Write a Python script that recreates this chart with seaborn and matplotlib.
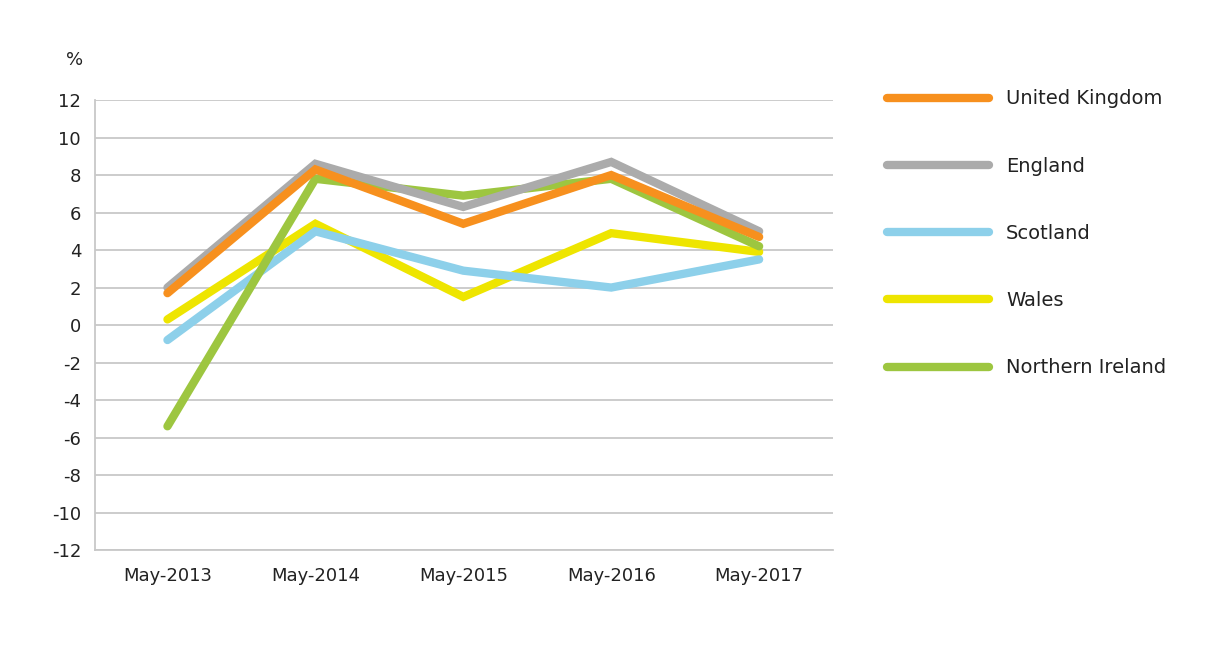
import pandas as pd
import seaborn as sns
import matplotlib.pyplot as plt
from matplotlib.lines import Line2D

# ======================================
# DADOS
# ======================================

periodos = ['May-2013', 'May-2014', 'May-2015', 'May-2016', 'May-2017']

uk = [1.7, 8.3, 5.4, 8.0, 4.7]
england = [2.0, 8.6, 6.3, 8.7, 5.0]
scotland = [-0.8, 5.0, 2.9, 2.0, 3.5]
wales = [0.3, 5.4, 1.5, 4.9, 3.9]
n_ireland = [-5.4, 7.8, 6.9, 7.8, 4.2]

regioes = ['United Kingdom', 'England', 'Scotland', 'Wales', 'Northern Ireland']
cores = ['#F7901E', '#ABABAB', '#8DD0EA', '#EEE500', '#9DC640']

y_ticks = list(range(-12, 13, 2))

# ======================================
# TABELA LONGA
# ======================================

series = [uk, england, scotland, wales, n_ireland]
linhas = []
for nome, valores in zip(regioes, series):
    for p, v in zip(periodos, valores):
        linhas.append({'Periodo': p, 'Regiao': nome, 'Valor': v})
df = pd.DataFrame(linhas)

# ======================================
# GRAFICO
# ======================================

sns.set_style('white')
plt.rcParams['font.family'] = ['DejaVu Sans']
plt.rcParams['axes.unicode_minus'] = False

fig = plt.figure(figsize=(12.1, 6.54), dpi=100)
ax = fig.add_axes([0.0785, 0.159, 0.61, 0.688])

sns.lineplot(data=df, x='Periodo', y='Valor', hue='Regiao',
             hue_order=regioes, palette=cores, linewidth=6.0,
             sort=False, legend=False, ax=ax)

# UK por cima, depois Inglaterra
ordem_z = {0: 6, 1: 5, 2: 3, 3: 2, 4: 4}
for i, linha in enumerate(ax.get_lines()[:len(regioes)]):
    linha.set_zorder(ordem_z[i])
    linha.set_solid_capstyle('round')
    linha.set_solid_joinstyle('miter')

ax.set_ylim(-12, 12)
ax.set_xlim(-0.49, 4.5)
ax.set_yticks(y_ticks)
ax.set_xlabel('')
ax.set_ylabel('')
ax.yaxis.grid(True, color='#C8C8C8', linewidth=1.3)
ax.set_axisbelow(True)

for lado in ['top', 'right']:
    ax.spines[lado].set_visible(False)
for lado in ['left', 'bottom']:
    ax.spines[lado].set_color('#C8C8C8')
    ax.spines[lado].set_linewidth(1.3)

ax.tick_params(axis='y', length=4, color='#C8C8C8', width=1.3, labelsize=13, pad=6, labelcolor='#222222')
ax.tick_params(axis='x', length=0, labelsize=13, pad=12, labelcolor='#222222')

fig.text(0.062, 0.908, '%', fontsize=13, color='#222222', ha='center', va='center')

# Legenda manual
handles = [Line2D([0], [0], color=c, linewidth=6.0, solid_capstyle='round') for c in cores]
fig.legend(handles, regioes, loc='upper left', bbox_to_anchor=(0.719, 0.89),
           frameon=False, fontsize=14, handlelength=5.2, handletextpad=0.9,
           labelspacing=2.48, labelcolor='#222222')

plt.savefig('out.png', dpi=100)
